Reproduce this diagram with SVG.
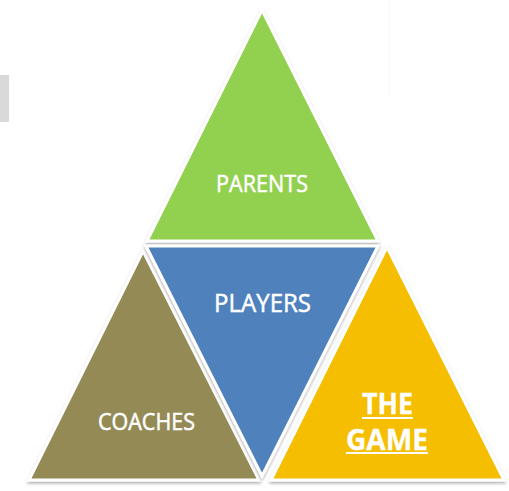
<svg xmlns="http://www.w3.org/2000/svg" width="509" height="491" viewBox="0 0 509 491">
<defs>
<filter id="sh" x="-10%" y="-10%" width="120%" height="125%">
<feDropShadow dx="0" dy="2" stdDeviation="1.5" flood-color="#000" flood-opacity="0.3"/>
</filter>
</defs>
<style>
.tri{stroke:#fff;stroke-width:3;stroke-linejoin:miter;filter:url(#sh)}
.lbl{font-family:"Open Sans","Noto Sans",sans-serif;fill:#fff;text-anchor:middle;stroke:#fff;stroke-width:0.5}
.b{font-weight:bold;stroke-width:0.3}
</style>
<rect x="0" y="0" width="509" height="491" fill="#fff"/>
<rect x="0" y="75" width="9" height="47" fill="#d9d9d9"/>
<line x1="389" y1="0" x2="389" y2="97" stroke="#f3f3f3" stroke-width="1"/>
<g id="parents">
<polygon class="tri" points="262,10 378,241 147,241" fill="#92d050"/>
<text class="lbl" x="262" y="192" font-size="23.5" textLength="92" lengthAdjust="spacingAndGlyphs">PARENTS</text>
</g>
<g id="coaches">
<polygon class="tri" points="143,251 259,480 29,480" fill="#948a54"/>
<text class="lbl" x="146.5" y="430" font-size="23.5" textLength="97" lengthAdjust="spacingAndGlyphs">COACHES</text>
</g>
<g id="game">
<polygon class="tri" points="387,247 504,480 271,480" fill="#f5be05"/>
<text class="lbl b" x="387.5" y="414" font-size="29" textLength="51" lengthAdjust="spacingAndGlyphs">THE</text>
<text class="lbl b" x="387" y="450" font-size="29" textLength="82" lengthAdjust="spacingAndGlyphs">GAME</text>
<rect x="362" y="417" width="51" height="2" fill="#fff"/>
<rect x="346" y="452" width="82" height="2" fill="#fff"/>
</g>
<g id="players">
<polygon class="tri" points="146,246 378,246 262,476" fill="#4f81bd"/>
<text class="lbl" x="262.5" y="311.5" font-size="26" textLength="97" lengthAdjust="spacingAndGlyphs">PLAYERS</text>
</g>
<g id="connectors"></g>
</svg>
